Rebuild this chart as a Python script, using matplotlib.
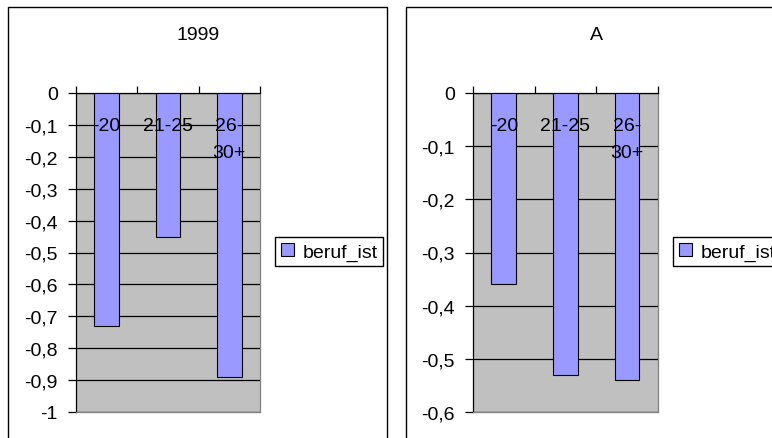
import matplotlib
matplotlib.use("Agg")
import matplotlib.pyplot as plt
from matplotlib.patches import Rectangle, Patch
from matplotlib import transforms

plt.rcParams['font.family'] = ['Liberation Sans', 'DejaVu Sans']

# categories and values, one list per panel
categories = ['-20', '21-25', '26-\n30+']
series_name = 'beruf_ist'
titles = ['1999', 'A']
values_1999 = [-0.73, -0.45, -0.89]
values_a = [-0.36, -0.53, -0.54]
yticks_1999 = [0, -0.1, -0.2, -0.3, -0.4, -0.5, -0.6, -0.7, -0.8, -0.9, -1]
yticks_a = [0, -0.1, -0.2, -0.3, -0.4, -0.5, -0.6]

W, H = 772, 439
fig = plt.figure(figsize=(W / 100, H / 100), dpi=100)
fs = 14


def fmt(v):
    if v == int(v):
        return str(int(v))
    return f"{v:.1f}".replace('.', ',')


def panel(px0, px1, title_x, legend_x, vals, yticks, title, frame):
    # outer chart border
    fig.add_artist(Rectangle((frame[0] / W, -0.1), (frame[1] - frame[0]) / W,
                             1.1 - 8 / H, transform=fig.transFigure,
                             fill=False, edgecolor='black', lw=1.0, clip_on=False))
    ax = fig.add_axes([px0 / W, 1 - 413 / H, (px1 - px0) / W, (413 - 94) / H])
    ax.set_facecolor('#C0C0C0')
    x = list(range(len(vals)))
    ax.bar(x, vals, width=0.4, color='#9999FF', edgecolor='black', lw=0.8,
           zorder=3)
    ax.set_xlim(-0.5, len(vals) - 0.5)
    ax.set_ylim(min(yticks), 0)
    ax.set_yticks(yticks)
    ax.set_yticklabels([fmt(v) for v in yticks], fontsize=fs)
    ax.yaxis.grid(True, color='black', lw=0.9, zorder=1)
    ax.set_axisbelow(True)
    ax.tick_params(axis='y', direction='out', length=6, width=0.9, pad=7)
    ax.xaxis.set_ticks_position('top')
    ax.set_xticks([i - 0.5 for i in range(len(vals) + 1)])
    ax.tick_params(axis='x', direction='out', length=5, width=0.9,
                   labeltop=False, labelbottom=False)
    for s in ['left', 'top']:
        ax.spines[s].set_color('black')
        ax.spines[s].set_linewidth(0.9)
    for s in ['right', 'bottom']:
        ax.spines[s].set_color('#808080')
        ax.spines[s].set_linewidth(0.9)
    for i, lab in enumerate(categories):
        for k, line in enumerate(lab.split('\n')):
            tr = transforms.offset_copy(ax.get_xaxis_transform(), fig=fig,
                                        y=-37 - 27 * k, units='dots')
            ax.text(i, 1, line, transform=tr, ha='center', va='baseline',
                    fontsize=fs, zorder=5)
    fig.text(title_x / W, 1 - 35 / H, title, ha='center', va='center',
             fontsize=fs)
    ax.legend([Patch(facecolor='#9999FF', edgecolor='black', lw=0.8)],
              [series_name], loc='upper left',
              bbox_to_anchor=(legend_x / W, 1 - 238 / H),
              bbox_transform=fig.transFigure, fancybox=False,
              edgecolor='black', framealpha=1, fontsize=fs,
              handlelength=0.7, handleheight=0.7, handletextpad=0.4,
              borderpad=0.3, borderaxespad=0)


panel(76, 260, 198, 275, values_1999, yticks_1999, titles[0], (8, 387))
panel(473, 658, 596, 673, values_a, yticks_a, titles[1], (406, 900))

fig.savefig('out.png', dpi=100)
